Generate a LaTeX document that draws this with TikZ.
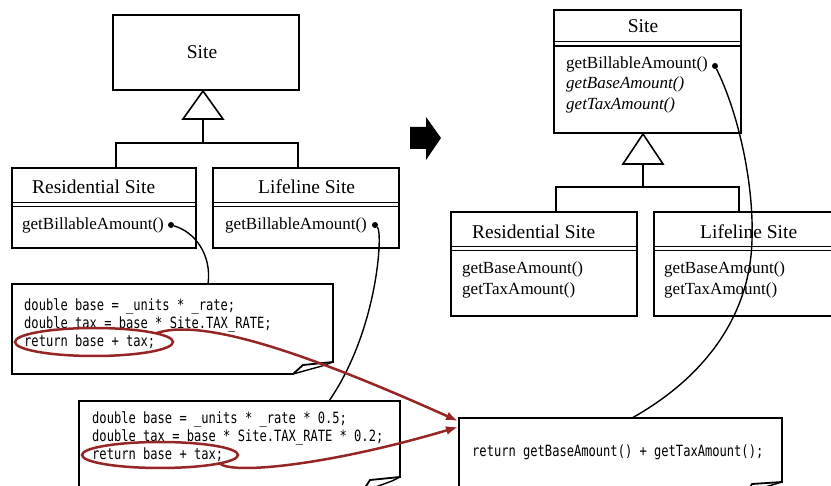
\documentclass[tikz,border=0pt]{standalone}
\usepackage{fontspec}
\setmainfont{Liberation Serif}
\newfontfamily\codefont[FakeStretch=0.78]{DejaVu Sans Mono}
\usetikzlibrary{arrows.meta,calc,shapes.geometric}
\definecolor{redline}{RGB}{150,38,38}

\begin{document}
\begin{tikzpicture}[x=1pt,y=-1pt,
  box/.style={draw,line width=1.8pt,anchor=north west,inner sep=0pt,outer sep=0pt},
  sep/.style={line width=1.3pt},
  nametxt/.style={font=\fontsize{19.5}{22}\selectfont,inner sep=0pt},
  methtxt/.style={font=\fontsize{17}{20}\selectfont,anchor=base west,inner sep=0pt},
  codetxt/.style={font=\codefont\fontsize{15.5}{18}\selectfont,anchor=base west,inner sep=0pt},
  outline/.style={line width=1.8pt,line join=miter},
  conn/.style={line width=1.4pt},
  gen/.style={line width=1.6pt},
  redpen/.style={draw=redline,line width=2.5pt},
  redmark/.style={draw=redline,line width=2.5pt,ellipse,inner sep=0pt,outer sep=0pt},
  dotmark/.style={circle,fill,inner sep=0pt,minimum size=6pt},
  ghost/.style={anchor=north west,inner sep=0pt,outer sep=0pt}
]
\useasboundingbox (0,0) rectangle (831,486);
\clip (0,0) rectangle (831,486);

% ================= LEFT =================
\node[box,minimum width=186pt,minimum height=75pt] (siteL) at (113,15) {};
\node[nametxt,anchor=base] (siteLname) at (202,59) {Site};

\draw[gen,fill=white] (203,91) -- (223,119) -- (183,119) -- cycle;
\coordinate (triL) at (203,119);
\coordinate (jL) at (203,143);
\draw[gen] (triL) -- (jL);
\draw[gen] (116,168) -- (116,143) -- (298,143) -- (298,168);

\node[box,minimum width=184pt,minimum height=80pt] (rsL) at (12,168) {};
\node[nametxt,anchor=base west] (rsLname) at (32,194) {Residential Site};
\draw[sep] (12,202.3) -- (196,202.3);
\draw[sep] (12,206.5) -- (196,206.5);
\node[methtxt] (rsLm) at (22,230) {getBillableAmount()};
\node[dotmark] (dotRS) at (171,225) {};

\node[box,minimum width=186pt,minimum height=80pt] (lsL) at (213,168) {};
\node[nametxt,anchor=base west] (lsLname) at (258,194) {Lifeline Site};
\draw[sep] (213,202.3) -- (399,202.3);
\draw[sep] (213,206.5) -- (399,206.5);
\node[methtxt] (lsLm) at (225,230) {getBillableAmount()};
\node[dotmark] (dotLS) at (375,225) {};

% code box 1
\node[ghost,minimum width=321pt,minimum height=90pt] (code1) at (12,284) {};
\draw[outline] (12,284) -- (333,284) -- (333,362) -- (303,365) -- (293,374) -- (12,374) -- cycle;
\draw[line width=1.4pt] (293,374) -- (322,366) -- (333,362);
\node[codetxt] (c1a) at (24,311) {double base = \_units * \_rate;};
\node[codetxt] (c1b) at (24,329) {double tax = base * Site.TAX\_RATE;};
\node[codetxt] (c1c) at (24,347) {return base + tax;};

% code box 2
\node[ghost,minimum width=321pt,minimum height=89pt] (code2) at (79,401) {};
\draw[outline] (362,492) -- (370,480) -- (400,477) -- (400,401) -- (79,401) -- (79,492);
\draw[line width=1.4pt] (362,492) -- (392,481) -- (400,477);
\node[codetxt] (c2a) at (92,424) {double base = \_units * \_rate * 0.5;};
\node[codetxt] (c2b) at (92,442) {double tax = base * Site.TAX\_RATE * 0.2;};
\node[codetxt] (c2c) at (92,460) {return base + tax;};

% connectors from methods to code
\coordinate (c1top) at (208,284);
\coordinate (c2top) at (329,401);
\draw[conn] (dotRS) .. controls (195,232) and (212,255) .. (c1top);
\draw[conn] (dotLS) .. controls (383,232) and (378,330) .. (c2top);

% ================= ARROW =================
\fill (410,127) -- (426,127) -- (426,117) -- (441,138) -- (426,160) -- (426,149) -- (410,149) -- cycle;

% ================= RIGHT =================
\node[box,minimum width=187pt,minimum height=123pt] (siteR) at (554,10) {};
\node[nametxt,anchor=base] (siteRname) at (643,33) {Site};
\draw[sep] (554,41.7) -- (741,41.7);
\draw[sep] (554,46) -- (741,46);
\node[methtxt] (siteRm1) at (566,68.5) {getBillableAmount()};
\node[methtxt] (siteRm2) at (566,89) {\itshape getBaseAmount()};
\node[methtxt] (siteRm3) at (566,110) {\itshape getTaxAmount()};
\node[dotmark] (dotSite) at (715,66) {};

\draw[gen,fill=white] (643,134) -- (663,164) -- (623,164) -- cycle;
\coordinate (triR) at (643,164);
\coordinate (jR) at (643,187);
\draw[gen] (triR) -- (jR);
\draw[gen] (556,212) -- (556,187) -- (739,187) -- (739,212);

\node[box,minimum width=186pt,minimum height=104pt] (rsR) at (451,212) {};
\node[nametxt,anchor=base west] (rsRname) at (472,238.5) {Residential Site};
\draw[sep] (451,246.7) -- (637,246.7);
\draw[sep] (451,250.8) -- (637,250.8);
\node[methtxt] (rsRm1) at (462,273.5) {getBaseAmount()};
\node[methtxt] (rsRm2) at (462,295) {getTaxAmount()};

\node[box,minimum width=200pt,minimum height=104pt] (lsR) at (654,212) {};
\node[nametxt,anchor=base west] (lsRname) at (700,238.5) {Lifeline Site};
\draw[sep] (654,246.7) -- (860,246.7);
\draw[sep] (654,250.8) -- (860,250.8);
\node[methtxt] (lsRm1) at (664,273.5) {getBaseAmount()};
\node[methtxt] (lsRm2) at (664,295) {getTaxAmount()};

% right code box
\node[ghost,minimum width=323pt,minimum height=70pt] (codeR) at (459,418) {};
\draw[outline] (459,492) -- (459,418) -- (782,418) -- (782,482) -- (752,484) -- (747,492);
\draw[line width=1.4pt] (747,492) -- (772,485) -- (782,482);
\node[codetxt] (cRa) at (472,457) {return getBaseAmount() + getTaxAmount();};

\coordinate (cRtop) at (632,418);
\draw[conn] (dotSite) .. controls (737,110) and (754,180) .. (752,240)
  .. controls (750,320) and (700,380) .. (cRtop);

% ================= RED MARKS =================
\node[redmark,minimum width=158pt,minimum height=28pt] (e1) at (94,342) {};
\node[redmark,minimum width=156pt,minimum height=26pt] (e2) at (160,455) {};
\coordinate (tip1) at ($(codeR.north west)+(-1,3)$);
\coordinate (tip2) at ($(codeR.north west)+(-1,9)$);
\draw[redpen,-{Latex[length=12pt,width=9pt]}] (e1.8) .. controls (200,318) and (300,350) .. (tip1);
\draw[redpen,-{Latex[length=12pt,width=9pt]}] (e2.-8) .. controls (232,475) and (330,465) .. (tip2);
\end{tikzpicture}
\end{document}
